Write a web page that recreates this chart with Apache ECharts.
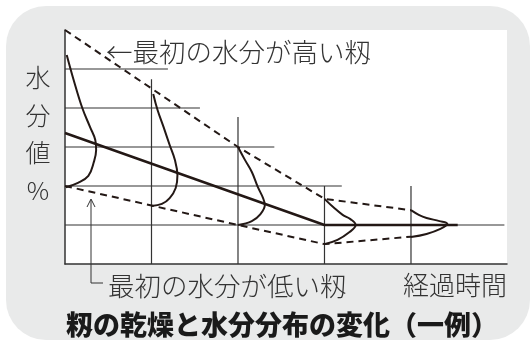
<!DOCTYPE html>
<html>
<head>
<meta charset="utf-8">
<script src="https://cdn.jsdelivr.net/npm/echarts@6/dist/echarts.min.js"></script>
<style>
  html, body { margin: 0; padding: 0; background: #fff; }
  #main { width: 530px; height: 341px; }
</style>
</head>
<body>
<div id="main"></div>
<script>
  // 時間（x）と水分値（y）は模式図の目盛単位
  const hGrid = [[0, 1, 5.08], [0, 2, 3.2], [0, 3, 2.42], [0, 4, 1.56], [0, 5, 1.19]];
  const vGrid = [[1, 0, 4.74], [2, 0, 3.77], [3, 0, 2.0], [4, 0, 2.0]];

  const highEdge = [[0, 6], [1, 4.5], [2, 3.0], [3, 1.67], [4, 1.38]];
  const lowEdge = [[0, 2.0], [1, 1.5], [2, 1.0], [3, 0.51], [4, 0.7]];
  const meanLine = [[0, 3.36], [3, 1.0], [4.54, 1.0]];

  const dist0 = [[0.02, 5.36], [0.1, 4.72], [0.2, 4.0], [0.29, 3.51], [0.35, 3.18], [0.36, 2.92],
                 [0.33, 2.59], [0.27, 2.26], [0.15, 2.08], [0.01, 1.97]];
  const dist1 = [[1.02, 4.36], [1.07, 3.95], [1.14, 3.51], [1.21, 3.05], [1.27, 2.67], [1.3, 2.28],
                 [1.28, 1.95], [1.21, 1.69], [1.12, 1.54], [1.0, 1.49]];
  const dist2 = [[2.0, 3.0], [2.08, 2.67], [2.16, 2.36], [2.23, 1.97], [2.29, 1.69], [2.31, 1.51],
                 [2.26, 1.28], [2.16, 1.1], [2.0, 1.0]];
  const dist3 = [[3.0, 1.67], [3.11, 1.44], [3.21, 1.26], [3.3, 1.15], [3.36, 1.0],
                 [3.29, 0.82], [3.15, 0.62], [3.0, 0.51]];
  const dist4 = [[4.0, 1.38], [4.09, 1.26], [4.18, 1.18], [4.33, 1.1], [4.42, 1.03],
                 [4.34, 0.9], [4.18, 0.77], [4.0, 0.69]];

  const ink = '#231815';
  const font = '"Noto Sans CJK JP", "Noto Sans", sans-serif';

  let series = [];
  hGrid.forEach(function (g) {
    series.push({ type: 'line', data: [[g[0], g[1]], [g[2], g[1]]], symbol: 'none', silent: true,
      lineStyle: { color: '#333', width: 1.2 }, z: 1 });
  });
  vGrid.forEach(function (g) {
    series.push({ type: 'line', data: [[g[0], g[1]], [g[0], g[2]]], symbol: 'none', silent: true,
      lineStyle: { color: '#333', width: 1.2 }, z: 1 });
  });
  [highEdge, lowEdge].forEach(function (d) {
    series.push({ type: 'line', data: d, symbol: 'none', clip: false,
      lineStyle: { color: ink, width: 2, type: [7, 5] }, z: 3 });
  });
  series.push({ type: 'line', data: meanLine, symbol: 'none',
    lineStyle: { color: ink, width: 2.5 }, z: 4 });
  [dist0, dist1, dist2, dist3, dist4].forEach(function (d) {
    series.push({ type: 'line', data: d, symbol: 'none', smooth: 0.4, clip: false,
      lineStyle: { color: ink, width: 2 }, z: 5 });
  });

  let myEchart = echarts.init(document.getElementById('main'));
  myEchart.setOption({
    animation: false,
    backgroundColor: '#fff',
    grid: {
      left: 65, right: 23, top: 30, bottom: 77,
      show: true, backgroundColor: '#fff', borderWidth: 0
    },
    xAxis: {
      type: 'value', min: 0, max: 5.11,
      axisLine: { show: true, lineStyle: { color: '#333', width: 1.5 } },
      axisTick: { show: false }, axisLabel: { show: false }, splitLine: { show: false }
    },
    yAxis: {
      type: 'value', min: 0, max: 6,
      axisLine: { show: true, lineStyle: { color: '#333', width: 1.5 } },
      axisTick: { show: false }, axisLabel: { show: false }, splitLine: { show: false }
    },
    graphic: [
      {
        type: 'rect', z: -10, silent: true,
        shape: { x: 6, y: 6, width: 524, height: 334, r: 40 },
        style: { fill: '#e9eaea' }
      },
      {
        type: 'text', x: 38, y: 59,
        style: { text: '水\n分\n値\n%', font: '300 25px ' + font, fill: '#333',
          lineHeight: 37.5, textAlign: 'center' }
      },
      {
        type: 'text', x: 106, y: 52,
        style: { text: '←最初の水分が高い籾', font: '300 26.5px ' + font, fill: '#333',
          textVerticalAlign: 'middle' }
      },
      {
        type: 'polyline', silent: true,
        shape: { points: [[91, 200], [91, 283], [103, 283]] },
        style: { stroke: '#333', lineWidth: 1, fill: null }
      },
      {
        type: 'polyline', silent: true,
        shape: { points: [[87, 207], [91, 199], [95, 207]] },
        style: { stroke: '#333', lineWidth: 1, fill: null }
      },
      {
        type: 'text', x: 108, y: 286,
        style: { text: '最初の水分が低い籾', font: '300 26.5px ' + font, fill: '#333',
          textVerticalAlign: 'middle' }
      },
      {
        type: 'text', x: 403, y: 285,
        style: { text: '経過時間', font: '300 26px ' + font, fill: '#333',
          textVerticalAlign: 'middle' }
      },
      {
        type: 'text', x: 282, y: 325,
        style: { text: '籾の乾燥と水分分布の変化（一例）', font: '900 27px ' + font, fill: '#1a1a1a',
          textAlign: 'center', textVerticalAlign: 'middle' }
      }
    ],
    series: series
  });
</script>
</body>
</html>
